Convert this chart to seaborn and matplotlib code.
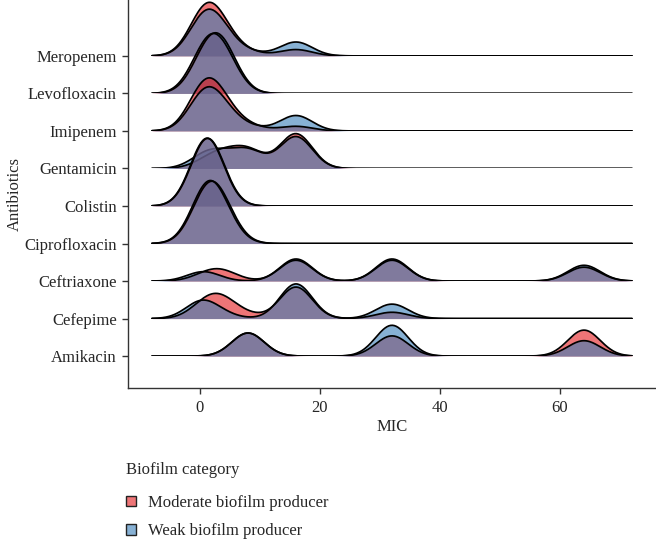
import numpy as np
import pandas as pd
import matplotlib
matplotlib.use("Agg")
import matplotlib.pyplot as plt
import seaborn as sns
from matplotlib.colors import to_rgba
from matplotlib.patches import Patch

# ---- data: isolates counted at each MIC level ----
ANTIBIOTICS = ["Amikacin", "Cefepime", "Ceftriaxone", "Ciprofloxacin", "Colistin",
               "Gentamicin", "Imipenem", "Levofloxacin", "Meropenem"]
MIC_LEVELS = [0.25, 0.5, 1, 2, 4, 8, 16, 32, 64]
CATEGORIES = ["Moderate biofilm producer", "Weak biofilm producer"]

MODERATE_COUNTS = [
    [0, 0, 0, 0, 0, 8, 0, 7, 9],    # Amikacin
    [0, 1, 2, 2, 4, 1, 10, 2, 0],   # Cefepime
    [0, 0, 1, 1, 2, 0, 6, 6, 4],    # Ceftriaxone
    [0, 3, 4, 5, 3, 0, 0, 0, 0],    # Ciprofloxacin
    [0, 2, 5, 3, 0, 0, 0, 0, 0],    # Colistin
    [0, 0, 1, 1, 3, 5, 10, 0, 0],   # Gentamicin
    [3, 2, 2, 3, 3, 1, 1, 0, 0],    # Imipenem
    [2, 0, 3, 3, 5, 0, 0, 0, 0],    # Levofloxacin
    [3, 3, 4, 5, 4, 1, 2, 0, 0],    # Meropenem
]
WEAK_COUNTS = [
    [0, 0, 0, 0, 0, 6, 0, 8, 4],    # Amikacin
    [4, 2, 0, 0, 1, 0, 12, 5, 0],   # Cefepime
    [1, 1, 1, 0, 0, 0, 7, 7, 5],    # Ceftriaxone
    [0, 2, 4, 5, 4, 0, 0, 0, 0],    # Ciprofloxacin
    [0, 2, 4, 4, 0, 0, 0, 0, 0],    # Colistin
    [0, 1, 2, 2, 2, 6, 11, 0, 0],   # Gentamicin
    [3, 2, 2, 3, 3, 1, 4, 0, 0],    # Imipenem
    [1, 0, 3, 3, 6, 0, 0, 0, 0],    # Levofloxacin
    [2, 3, 3, 4, 3, 1, 4, 0, 0],    # Meropenem
]

COLORS = ["#E41A1C", "#377EB8"]

rows = []
for i, ab in enumerate(ANTIBIOTICS):
    for cat, counts in zip(CATEGORIES, [MODERATE_COUNTS[i], WEAK_COUNTS[i]]):
        for mic, n in zip(MIC_LEVELS, counts):
            rows += [(ab, cat, mic)] * n
df = pd.DataFrame(rows, columns=["Antibiotic", "Biofilm category", "MIC"])

# ---- style ----
sns.set_style("ticks")
plt.rcParams["font.family"] = ["Liberation Serif", "DejaVu Serif"]
plt.rcParams["font.size"] = 12

BW = 2.7             # joint kernel bandwidth (MIC units)
DENS_TO_ROWS = 12.5  # one unit of density = this many ridge rows
RIDGE_H = 3.0

fig = plt.figure(figsize=(6.56, 5.41), dpi=100)
ax = fig.add_axes([128 / 656, 1 - 388 / 541, 528 / 656, 388 / 541])
ax.set_ylim(0.15, 10.49)

# top rows first so the lower ridges are drawn over them
for i in reversed(range(len(ANTIBIOTICS))):
    ab = ANTIBIOTICS[i]
    rax = ax.inset_axes([0, i + 1, 1, RIDGE_H], transform=ax.get_yaxis_transform(), sharex=ax)
    for cat, col in zip(CATEGORIES, COLORS):
        vals = df.loc[(df["Antibiotic"] == ab) & (df["Biofilm category"] == cat), "MIC"].to_numpy()
        kw = dict(x=vals, bw_method=BW / vals.std(ddof=1), cut=40, clip=(-8, 72),
                  gridsize=512, ax=rax)
        sns.kdeplot(**kw, fill=True, color=col, alpha=0.6, linewidth=0)
        sns.kdeplot(**kw, color="black", linewidth=1.25)
    rax.set_ylim(0, RIDGE_H / DENS_TO_ROWS)
    rax.set_xlabel("")
    rax.set_ylabel("")
    rax.tick_params(labelbottom=False, labelleft=False, bottom=False, left=False)
    rax.set_axis_off()

ax.set_xlim(-12, 76)
ax.set_xticks([0, 20, 40, 60])
ax.set_yticks(range(1, len(ANTIBIOTICS) + 1), ANTIBIOTICS)
ax.set_xlabel("MIC", labelpad=2)
ax.set_ylabel("Antibiotics", labelpad=1)
ax.tick_params(length=4, width=1, color="#333333", labelsize=12)
ax.tick_params(axis="x", pad=5)
ax.tick_params(axis="y", pad=4)
for s in ["left", "bottom"]:
    ax.spines[s].set_color("#333333")
    ax.spines[s].set_linewidth(1)
sns.despine(ax=ax)

handles = [Patch(facecolor=to_rgba(c, 0.6), edgecolor="#222222", linewidth=1) for c in COLORS]
leg = fig.legend(handles, CATEGORIES, title="Biofilm category", loc="upper left",
                 bbox_to_anchor=(126 / 656, 1 - 462 / 541), frameon=False,
                 fontsize=12, title_fontsize=12, handlelength=0.6, handleheight=0.6,
                 handletextpad=0.7, labelspacing=0.75, borderpad=0, borderaxespad=0)
leg._legend_box.align = "left"
leg._legend_box.sep = 12

fig.savefig("out.png", dpi=100)
